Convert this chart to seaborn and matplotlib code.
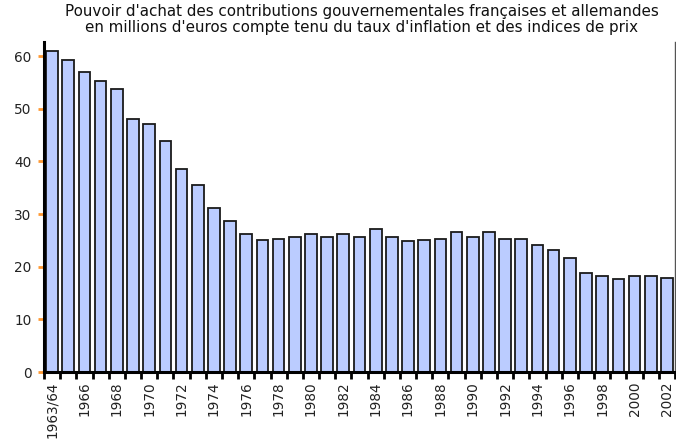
import matplotlib
matplotlib.use("Agg")
import matplotlib.pyplot as plt
import seaborn as sns
import numpy as np
import pandas as pd

years = ["1963/64"] + [str(y) for y in range(1965, 2003)]
values = [61.0, 59.3, 57.0, 55.2, 53.7, 48.1, 47.1, 43.8, 38.6, 35.5,
          31.1, 28.7, 26.3, 25.0, 25.3, 25.7, 26.3, 25.7, 26.3, 25.7,
          27.1, 25.7, 24.8, 25.0, 25.3, 26.6, 25.7, 26.6, 25.3, 25.3,
          24.1, 23.1, 21.7, 18.9, 18.3, 17.7, 18.3, 18.3, 17.9]
title = ("Pouvoir d'achat des contributions gouvernementales françaises et allemandes\n"
         "en millions d'euros compte tenu du taux d'inflation et des indices de prix")

sns.set_theme(style="white")
plt.rcParams['font.family'] = ['DejaVu Sans']

df = pd.DataFrame({"annee": years, "valeur": values})

fig = plt.figure(figsize=(6.76, 4.45), dpi=100)
ax = fig.add_axes([44/676, 1-372/445, (675-44)/676, (372-42)/445])
sns.barplot(data=df, x="annee", y="valeur", ax=ax, color="#bbccff",
            saturation=1, edgecolor="#1a1a1a", linewidth=1.3, width=0.72)

n = len(years)
ax.set_xlim(-0.5, n - 0.5)
ax.set_ylim(0, 62.7)
ax.set_xlabel("")
ax.set_ylabel("")
ax.set_yticks([0, 10, 20, 30, 40, 50, 60])
ax.set_yticklabels(["0", "10", "20", "30", "40", "50", "60"], fontsize=9.8, color="#222222")
ax.tick_params(axis="y", which="major", length=4, width=2, color="#ff9933", left=True, pad=5)

lab_pos = list(range(0, n, 2))
ax.set_xticks(lab_pos)
ax.set_xticklabels([years[i] for i in lab_pos], rotation=90, fontsize=9.8, color="#222222")
ax.tick_params(axis="x", which="major", length=0, pad=7)
ax.set_xticks(np.arange(-0.5, n, 1.0), minor=True)
ax.tick_params(axis="x", which="minor", length=5, width=2, color="black", bottom=True, direction="out")

ax.spines["top"].set_visible(False)
ax.spines["left"].set_color("black")
ax.spines["left"].set_linewidth(2.2)
ax.spines["bottom"].set_color("black")
ax.spines["bottom"].set_linewidth(2.2)
ax.spines["right"].set_visible(True)
ax.spines["right"].set_color("#555555")
ax.spines["right"].set_linewidth(1)
ax.grid(False)

fig.text(0.535, 0.99, title, ha="center", va="top", fontsize=10.9, color="#111111",
         linespacing=1.08)

fig.savefig("out.png", dpi=100, facecolor="white")
